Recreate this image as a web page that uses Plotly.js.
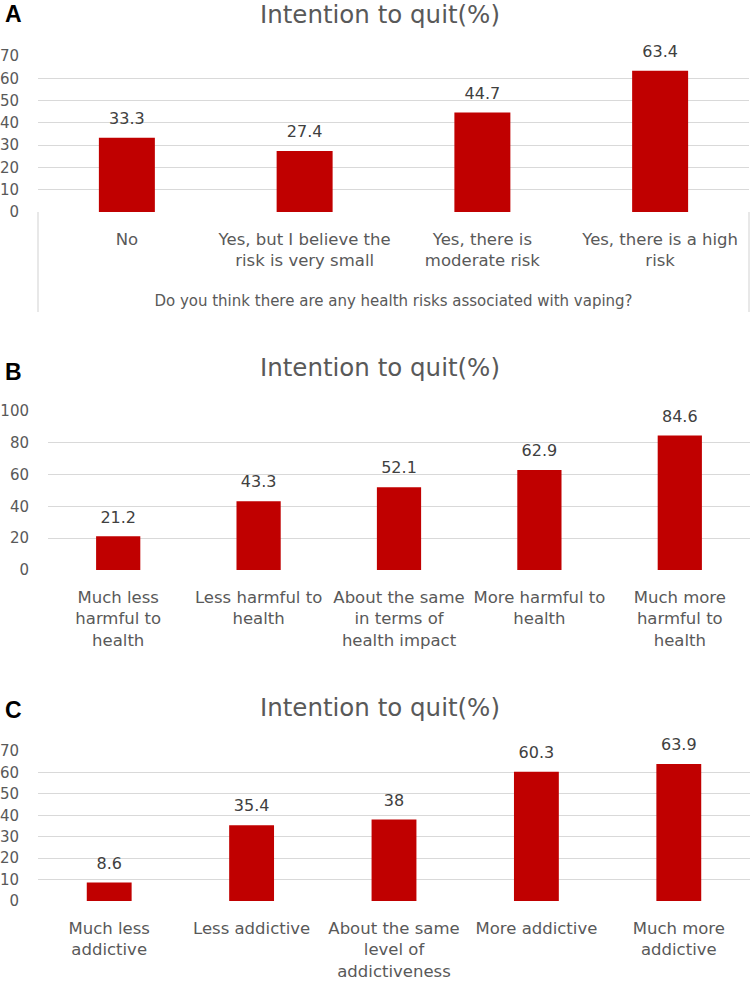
<!DOCTYPE html>
<html><head><meta charset="utf-8">
<script src="https://cdn.plot.ly/plotly-3.0.1.min.js"></script>
<style>html,body{margin:0;padding:0;background:#fff}#chart{width:750px;height:981px}</style>
</head><body><div id="chart"></div>
<script>
// ---- data ----
const catsA = ['No', 'Yes, but I believe the<br>risk is very small', 'Yes, there is<br>moderate risk', 'Yes, there is a high<br>risk'];
const valsA = [33.3, 27.4, 44.7, 63.4];
const catsB = ['Much less<br>harmful to<br>health', 'Less harmful to<br>health', 'About the same<br>in terms of<br>health impact', 'More harmful to<br>health', 'Much more<br>harmful to<br>health'];
const valsB = [21.2, 43.3, 52.1, 62.9, 84.6];
const catsC = ['Much less<br>addictive', 'Less addictive', 'About the same<br>level of<br>addictiveness', 'More addictive', 'Much more<br>addictive'];
const valsC = [8.6, 35.4, 38, 60.3, 63.9];
const panelTitle = 'Intention to quit(%)';
const axisTitleA = 'Do you think there are any health risks associated with vaping?';
const panelLetters = ['A', 'B', 'C'];
const yMaxA = 70, yMaxB = 100, yMaxC = 70;
const dtickA = 10, dtickB = 20, dtickC = 10;

// ---- styles ----
const BAR = '#C00000', GRID = '#d9d9d9', TXT = '#595959', LBL = '#404040';
const FONT = 'DejaVu Sans';

function barTrace(x, y, xa, ya) {
  return {type: 'bar', x: x, y: y, xaxis: xa, yaxis: ya, width: 0.315,
    marker: {color: BAR}, hoverinfo: 'skip'};
}
function labelTrace(x, y, xa, ya) {
  return {type: 'scatter', mode: 'markers+text', x: x, y: y, xaxis: xa, yaxis: ya,
    text: y.map(v => String(v)), textposition: 'top center', cliponaxis: false,
    textfont: {family: FONT, size: 16, color: LBL},
    marker: {size: 14, opacity: 0}, hoverinfo: 'skip'};
}
const data = [
  barTrace(catsA, valsA, 'x', 'y'), labelTrace(catsA, valsA, 'x', 'y'),
  barTrace(catsB, valsB, 'x2', 'y2'), labelTrace(catsB, valsB, 'x2', 'y2'),
  barTrace(catsC, valsC, 'x3', 'y3'), labelTrace(catsC, valsC, 'x3', 'y3')
];

function xAxis(domain, anchor) {
  return {domain: domain, anchor: anchor, type: 'category', showgrid: false, zeroline: false,
    showline: false, ticks: 'outside', ticklen: 12, tickcolor: 'rgba(0,0,0,0)',
    tickfont: {family: FONT, size: 16.5, color: TXT}, fixedrange: true};
}
function yAxis(domain, anchor, max, dt) {
  return {domain: domain, anchor: anchor, range: [0, max], tick0: 0, dtick: dt,
    gridcolor: GRID, gridwidth: 1.2, zeroline: false, showline: false,
    ticks: 'outside', ticklen: 15, tickcolor: 'rgba(0,0,0,0)',
    tickfont: {family: FONT, size: 15, color: TXT}, fixedrange: true};
}
const H = 981;
const py = v => 1 - v / H;

const layout = {
  width: 750, height: 981, margin: {l: 0, r: 0, t: 0, b: 0}, showlegend: false,
  paper_bgcolor: '#ffffff', plot_bgcolor: 'rgba(0,0,0,0)',
  font: {family: FONT, color: TXT},
  xaxis: Object.assign(xAxis([38 / 750, 749 / 750], 'y'), {
    title: {text: axisTitleA, font: {family: FONT, size: 15, color: TXT}, standoff: 26}}),
  yaxis: yAxis([py(212), py(56)], 'x', yMaxA, dtickA),
  xaxis2: xAxis([48 / 750, 1], 'y2'),
  yaxis2: yAxis([py(570), py(411)], 'x2', yMaxB, dtickB),
  xaxis3: xAxis([38 / 750, 1], 'y3'),
  yaxis3: yAxis([py(901), py(751)], 'x3', yMaxC, dtickC),
  annotations: [
    {text: panelTitle, xref: 'paper', yref: 'paper', x: 0.506, y: py(15), xanchor: 'center', yanchor: 'middle', showarrow: false, borderpad: 0, font: {family: FONT, size: 24.5, color: TXT}},
    {text: panelTitle, xref: 'paper', yref: 'paper', x: 0.506, y: py(368), xanchor: 'center', yanchor: 'middle', showarrow: false, borderpad: 0, font: {family: FONT, size: 24.5, color: TXT}},
    {text: panelTitle, xref: 'paper', yref: 'paper', x: 0.506, y: py(707), xanchor: 'center', yanchor: 'middle', showarrow: false, borderpad: 0, font: {family: FONT, size: 24.5, color: TXT}},
    {text: '<b>' + panelLetters[0] + '</b>', xref: 'paper', yref: 'paper', x: 13 / 750, y: py(14), xanchor: 'center', yanchor: 'middle', showarrow: false, font: {family: 'Liberation Sans', size: 23, color: '#000'}},
    {text: '<b>' + panelLetters[1] + '</b>', xref: 'paper', yref: 'paper', x: 13 / 750, y: py(372), xanchor: 'center', yanchor: 'middle', showarrow: false, font: {family: 'Liberation Sans', size: 23, color: '#000'}},
    {text: '<b>' + panelLetters[2] + '</b>', xref: 'paper', yref: 'paper', x: 13 / 750, y: py(710), xanchor: 'center', yanchor: 'middle', showarrow: false, font: {family: 'Liberation Sans', size: 23, color: '#000'}}
  ],
  shapes: [
    {type: 'line', xref: 'x domain', yref: 'paper', x0: 0, x1: 0, y0: py(312), y1: py(212), line: {color: GRID, width: 1.2}},
    {type: 'line', xref: 'x domain', yref: 'paper', x0: 1, x1: 1, y0: py(312), y1: py(212), line: {color: GRID, width: 1.2}}
  ]
};
Plotly.newPlot('chart', data, layout, {displayModeBar: false, staticPlot: true});
</script>
</body></html>
